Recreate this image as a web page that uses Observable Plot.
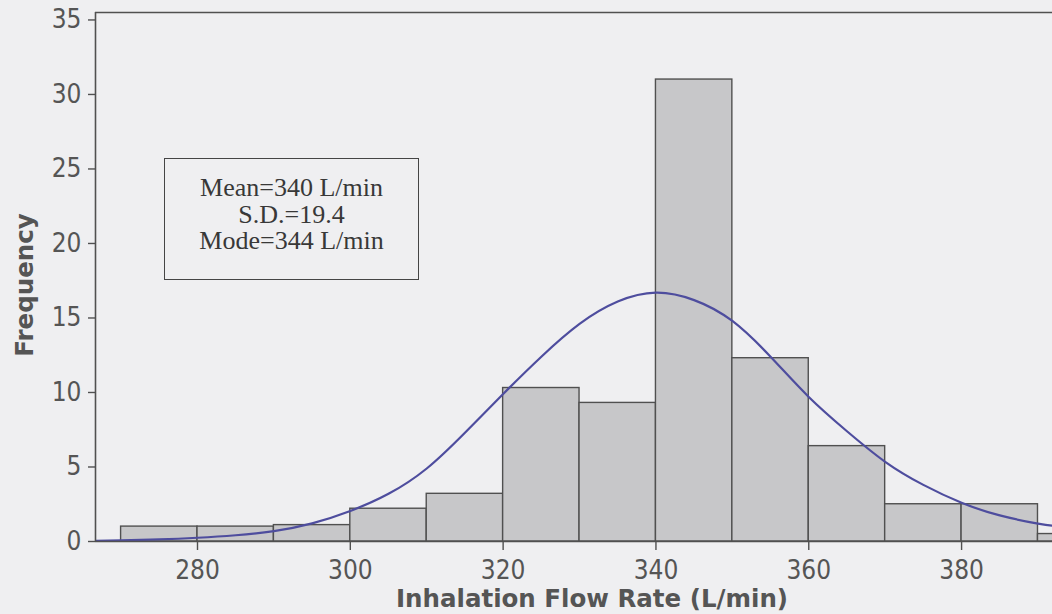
<!DOCTYPE html>
<html>
<head>
<meta charset="utf-8">
<script src="https://cdn.jsdelivr.net/npm/d3@7"></script>
<script src="https://cdn.jsdelivr.net/npm/@observablehq/plot@0.6"></script>
<style>
  html, body { margin: 0; padding: 0; background: #efeff1; }
  #wrap { position: relative; width: 1052px; height: 614px; overflow: hidden; }
  #box {
    position: absolute; left: 164px; top: 158px; width: 255px; height: 122px;
    box-sizing: border-box; border: 1.6px solid #454545; padding-top: 16px;
    font-family: "Liberation Serif", "DejaVu Serif", serif; font-size: 26px;
    line-height: 26.5px; color: #383838; text-align: center;
  }
</style>
</head>
<body>
<div id="wrap"><div id="box"></div></div>
<script>
// Histogram bins (L/min) and frequencies
const binStart = [270, 280, 290, 300, 310, 320, 330, 340, 350, 360, 370, 380, 390];
const binWidth = 10;
const frequency = [1, 1, 1.1, 2.2, 3.2, 10.3, 9.3, 31, 12.3, 6.4, 2.5, 2.5, 0.5];

// Fitted curve, points
const curveX = [266.7, 270, 275, 280, 285, 290, 295, 300, 305, 310, 315, 320, 325, 330, 335, 340, 345, 350, 355, 360, 365, 370, 375, 380, 385, 390, 392];
const curveY = [0.05, 0.08, 0.14, 0.25, 0.42, 0.7, 1.22, 2.05, 3.2, 4.9, 7.3, 9.9, 12.4, 14.6, 16.1, 16.7, 16.2, 14.8, 12.4, 9.7, 7.4, 5.35, 3.8, 2.6, 1.75, 1.2, 1.05];

// Axis ticks and texts
const xTicks = [280, 300, 320, 340, 360, 380];
const yTicks = [0, 5, 10, 15, 20, 25, 30, 35];
const xTitle = "Inhalation Flow Rate (L/min)";
const yTitle = "Frequency";
const statsLines = ["Mean=340 L/min", "S.D.=19.4", "Mode=344 L/min"];

const xDomain = [266.65, 391.9];
const yDomain = [0, 35.5];

const bins = binStart.map((x, i) => ({x1: x, x2: x + binWidth, f: frequency[i]}));
const curve = curveX.map((x, i) => ({x, y: curveY[i]}));

const tickFont = "'DejaVu Sans Condensed', 'DejaVu Sans', sans-serif";
const titleFont = "'DejaVu Sans', sans-serif";
const ink = "#555";

const chart = Plot.plot({
  width: 1052,
  height: 614,
  marginLeft: 95,
  marginRight: 0,
  marginTop: 12,
  marginBottom: 73,
  x: {domain: xDomain, axis: null},
  y: {domain: yDomain, axis: null},
  style: {background: "transparent", fontFamily: tickFont, color: ink, overflow: "visible"},
  marks: [
    Plot.rect(bins, {x1: "x1", x2: "x2", y1: 0, y2: "f", fill: "#c7c7c9", stroke: "#505050", strokeWidth: 1.4, clip: true}),
    Plot.line(curve, {x: "x", y: "y", stroke: "#4e4d9e", strokeWidth: 2.2, curve: "natural", clip: true}),
    Plot.ruleY([0], {stroke: "#505050", strokeWidth: 1.6}),
    Plot.ruleX([xDomain[0]], {stroke: "#505050", strokeWidth: 1.6}),
    Plot.ruleY([yDomain[1]], {stroke: "#505050", strokeWidth: 1.6}),
    Plot.axisX({ticks: xTicks, tickSize: 9, tickPadding: 10, fontSize: 26, stroke: "#505050", strokeWidth: 1.4, label: null}),
    Plot.axisY({ticks: yTicks, tickSize: 7, tickPadding: 7, fontSize: 26, stroke: "#505050", strokeWidth: 1.4, label: null}),
    Plot.text([xTitle], {frameAnchor: "bottom", dx: 18, dy: 58, textAnchor: "middle", lineAnchor: "middle", fontSize: 24.5, fontWeight: "bold", fontFamily: titleFont, fill: ink}),
    Plot.text([yTitle], {frameAnchor: "left", dx: -70, dy: 8, rotate: -90, textAnchor: "middle", lineAnchor: "middle", fontSize: 24.5, fontWeight: "bold", fontFamily: titleFont, fill: ink})
  ]
});

const wrap = document.getElementById("wrap");
wrap.insertBefore(chart, wrap.firstChild);
document.getElementById("box").innerHTML = statsLines.map(s => `<div>${s}</div>`).join("");
</script>
</body>
</html>
